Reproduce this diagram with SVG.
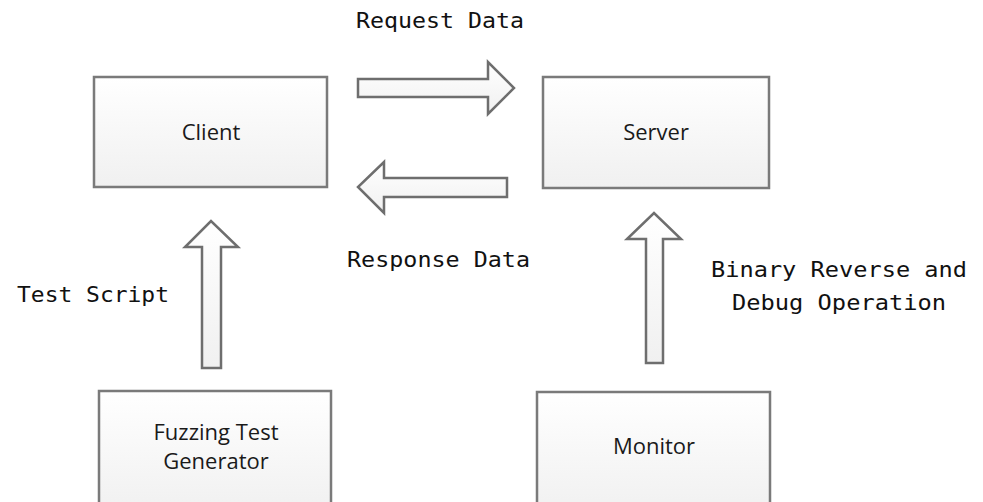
<svg xmlns="http://www.w3.org/2000/svg" width="983" height="502" viewBox="0 0 983 502">
<defs>
<linearGradient id="g" x1="0" y1="0" x2="0" y2="1">
<stop offset="0" stop-color="#ffffff"/>
<stop offset="1" stop-color="#f0f0f0"/>
</linearGradient>
</defs>
<style>
.box{fill:url(#g);stroke:#7a7a7a;stroke-width:2.5}
.arr{fill:url(#g);stroke:#6e6e6e;stroke-width:2.5;stroke-linejoin:miter}
.lbl{font-family:"Open Sans","Noto Sans",sans-serif;font-size:22px;fill:#1a1a1a;text-anchor:middle}
.mono{font-family:"DejaVu Sans Mono","Liberation Mono",monospace;font-size:22px;fill:#111}
</style>
<rect width="983" height="502" fill="#ffffff"/>
<g id="client"><rect class="box" x="94" y="77" width="233" height="110"/><text class="lbl" x="211" y="140">Client</text></g>
<g id="server"><rect class="box" x="543" y="77" width="226" height="111"/><text class="lbl" x="656" y="140">Server</text></g>
<g id="fuzzer"><rect class="box" x="99" y="391" width="232" height="125"/><text class="lbl" x="216" y="440">Fuzzing Test</text><text class="lbl" x="216" y="469">Generator</text></g>
<g id="monitor"><rect class="box" x="537" y="392" width="233" height="125"/><text class="lbl" x="654" y="454">Monitor</text></g>
<g id="connectors">
<polygon class="arr" points="358,79 488,79 488,62 514,88 488,114 488,97 358,97"/>
<polygon class="arr" points="507,178 384,178 384,162 358,187 384,213 384,197 507,197"/>
<polygon class="arr" points="202,368 202,247 185,247 211,221 238,247 221,247 221,368"/>
<polygon class="arr" points="646,363 646,239 627,239 654,213 681,239 663,239 663,363"/>
<text class="mono" x="356" y="28" textLength="168" lengthAdjust="spacingAndGlyphs">Request Data</text>
<text class="mono" x="347" y="267" textLength="183" lengthAdjust="spacingAndGlyphs">Response Data</text>
<text class="mono" x="17" y="302" textLength="152" lengthAdjust="spacingAndGlyphs">Test Script</text>
<text class="mono" x="711" y="277" textLength="256" lengthAdjust="spacingAndGlyphs">Binary Reverse and</text>
<text class="mono" x="732" y="310" textLength="214" lengthAdjust="spacingAndGlyphs">Debug Operation</text>
</g>
</svg>
